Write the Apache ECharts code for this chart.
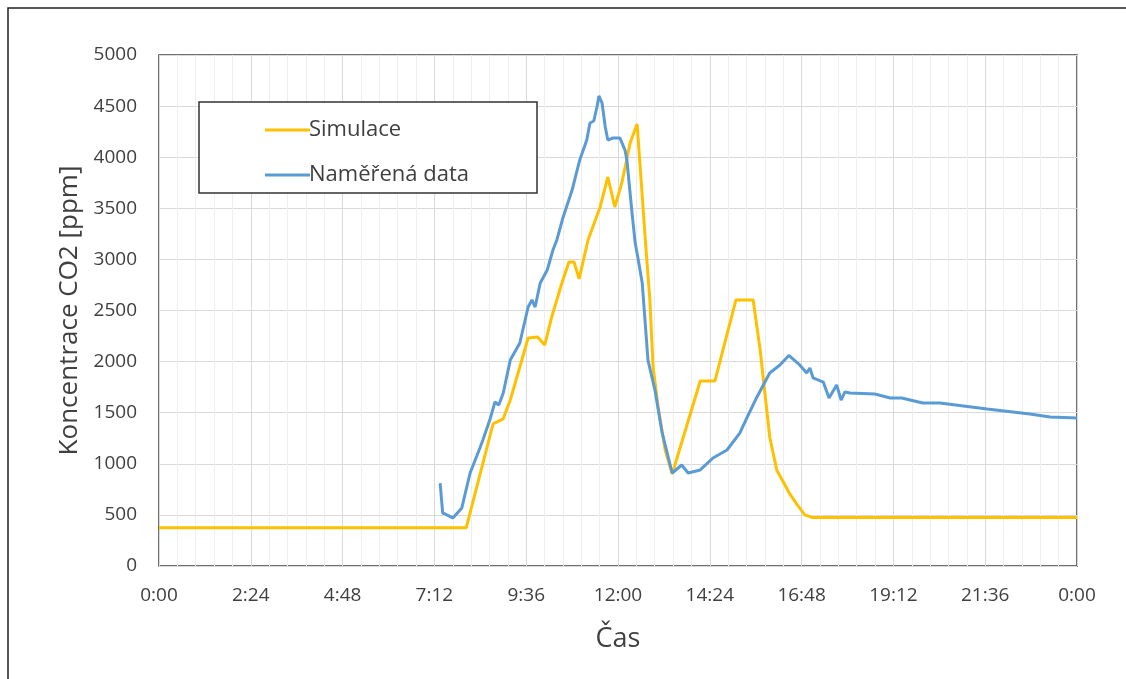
<!DOCTYPE html>
<html>
<head>
<meta charset="utf-8">
<title>Koncentrace CO2</title>
<script src="https://cdn.jsdelivr.net/npm/echarts@6/dist/echarts.min.js"></script>
<style>
  html, body { margin: 0; padding: 0; background: #fff; }
  #chart { width: 1126px; height: 679px; }
</style>
</head>
<body>
<div id="chart"></div>
<script>
// čas v minutách od půlnoci, hodnoty v ppm
const simTime = [0, 482, 524, 540, 551, 566, 579, 594, 605, 616, 632, 643, 651, 659, 673, 692, 704, 715, 726, 739, 750, 764, 770, 775, 783, 794, 805, 849, 872, 905, 932, 943, 958, 969, 990, 1001, 1013, 1024, 1200, 1440];
const simValues = [375, 375, 1390, 1440, 1624, 1947, 2231, 2240, 2162, 2436, 2769, 2975, 2975, 2810, 3190, 3513, 3806, 3513, 3748, 4139, 4325, 3092, 2603, 1947, 1556, 1135, 900, 1810, 1810, 2603, 2603, 2113, 1262, 940, 700, 600, 500, 475, 475, 475];

const measTime = [441, 445, 461, 475, 488, 504, 508, 519, 527, 533, 540, 551, 566, 579, 585, 590, 598, 609, 618, 624, 634, 648, 660, 671, 676, 682, 687, 690, 695, 700, 704, 712, 723, 731, 734, 742, 747, 751, 758, 767, 778, 789, 805, 820, 830, 849, 869, 891, 911, 922, 938, 958, 974, 988, 1005, 1016, 1021, 1026, 1042, 1051, 1063, 1070, 1076, 1084, 1123, 1147, 1165, 1198, 1225, 1299, 1366, 1398, 1440];
const measValues = [812, 519, 470, 568, 910, 1165, 1233, 1430, 1605, 1575, 1693, 2015, 2182, 2534, 2603, 2534, 2769, 2896, 3092, 3190, 3415, 3679, 3973, 4168, 4335, 4354, 4491, 4599, 4530, 4296, 4168, 4188, 4188, 4070, 3970, 3454, 3160, 3024, 2770, 2015, 1720, 1311, 910, 988, 910, 940, 1057, 1135, 1301, 1448, 1654, 1888, 1967, 2060, 1967, 1888, 1937, 1840, 1800, 1644, 1771, 1624, 1703, 1693, 1683, 1644, 1644, 1595, 1595, 1536, 1487, 1458, 1448];

const seriesNames = ["Simulace", "Naměřená data"];
const yTicks = [0, 500, 1000, 1500, 2000, 2500, 3000, 3500, 4000, 4500, 5000];

const font = "'Open Sans', 'Noto Sans', sans-serif";
const textColor = "#404040";

const pairs = (xs, ys) => xs.map((x, i) => [x, ys[i]]);

const fmtTime = (v) => {
  const h = Math.floor(v / 60) % 24;
  const m = Math.round(v % 60);
  return h + ":" + (m < 10 ? "0" + m : m);
};

const chart = echarts.init(document.getElementById("chart"));

chart.setOption({
  animation: false,
  textStyle: { fontFamily: font },
  graphic: [
    {
      // vnější rámeček grafu
      type: "rect",
      shape: { x: 8, y: 8, width: 1300, height: 900 },
      style: { fill: "none", stroke: "#222", lineWidth: 1.5 },
      silent: true,
    },
    {
      // rámeček legendy
      type: "rect",
      shape: { x: 199, y: 102, width: 338, height: 91 },
      style: { fill: "#fff", stroke: "#333", lineWidth: 1.5 },
      z: 10,
      silent: true,
    },
  ],
  legend: {
    orient: "vertical",
    left: 260,
    top: 114,
    z: 20,
    data: seriesNames,
    icon: "rect",
    itemWidth: 45,
    itemHeight: 3,
    itemGap: 23,
    textStyle: { fontSize: 22, lineHeight: 22, color: textColor, fontFamily: font, padding: [0, 0, 0, -6] },
  },
  grid: {
    left: 159,
    top: 55,
    right: 49,
    bottom: 113,
    show: true,
    borderColor: "#404040",
    borderWidth: 1.5,
  },
  xAxis: {
    type: "value",
    min: 0,
    max: 1440,
    interval: 144,
    name: "Čas",
    nameLocation: "middle",
    nameGap: 60,
    nameTextStyle: { fontSize: 27, color: textColor, fontFamily: font },
    axisLine: { show: false },
    axisTick: { show: false },
    axisLabel: { formatter: fmtTime, fontSize: 19, color: textColor, margin: 20, fontFamily: font },
    splitLine: { show: true, lineStyle: { color: "#d9d9d9", width: 1 } },
    minorTick: { show: false, splitNumber: 5 },
    minorSplitLine: { show: true, lineStyle: { color: "#eeeeee", width: 1 } },
  },
  yAxis: {
    type: "value",
    min: 0,
    max: 5000,
    interval: 500,
    name: "Koncentrace CO2 [ppm]",
    nameLocation: "middle",
    nameGap: 75,
    nameTextStyle: { fontSize: 26, color: textColor, fontFamily: font },
    axisLine: { show: false },
    axisTick: { show: false },
    axisLabel: {
      fontSize: 19,
      color: textColor,
      margin: 22,
      fontFamily: font,
      formatter: (v) => (yTicks.includes(v) ? String(v) : ""),
    },
    splitLine: { show: true, lineStyle: { color: "#d9d9d9", width: 1 } },
  },
  series: [
    {
      name: seriesNames[0],
      type: "line",
      data: pairs(simTime, simValues),
      showSymbol: false,
      color: "#FFC000",
      lineStyle: { width: 3, color: "#FFC000" },
    },
    {
      name: seriesNames[1],
      type: "line",
      data: pairs(measTime, measValues),
      showSymbol: false,
      color: "#5B9BD5",
      lineStyle: { width: 3, color: "#5B9BD5" },
    },
  ],
});
</script>
</body>
</html>
